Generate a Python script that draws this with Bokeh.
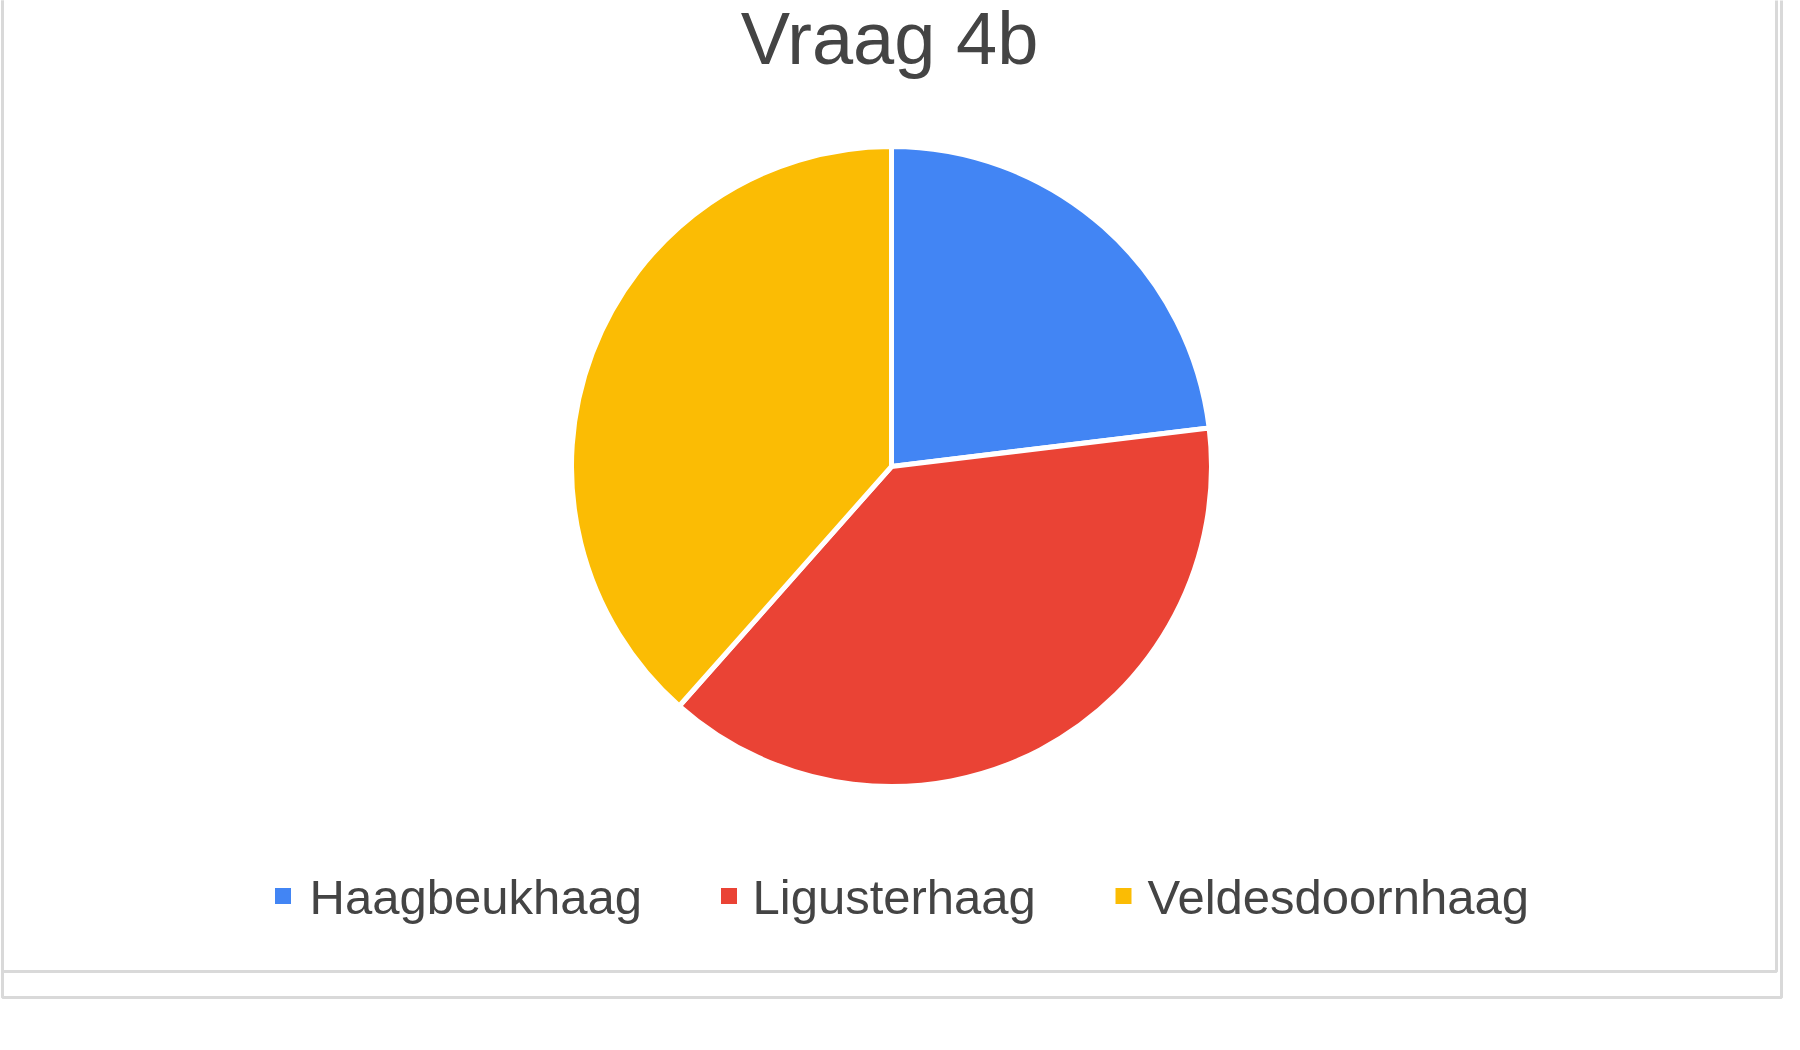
import numpy as np
from bokeh.plotting import figure
from bokeh.models import Range1d
from bokeh.core.properties import value
from bokeh.embed import file_html
from bokeh.resources import INLINE

# chart data
title = "Vraag 4b"
labels = ["Haagbeukhaag", "Ligusterhaag", "Veldesdoornhaag"]
counts = [3, 5, 5]
colors = ["#4285F4", "#EA4335", "#FBBC04"]

# layout in pixels of the picture (y measured down)
W, H = 1784, 1034
OFF = 1
def py(y):
    # picture y (down) -> data y (up)
    return 1050 - y

cx, cy, radius = 892, 467, 320
legend_box_x = [283.5, 729.5, 1124]
legend_text_x = [310, 753, 1148]
legend_y = 896.5

# wedges, clockwise from 12 o'clock
frac = np.array(counts) / np.sum(counts)
cum = np.concatenate([[0], np.cumsum(frac)])
start = np.pi / 2 - 2 * np.pi * cum[:-1]
end = np.pi / 2 - 2 * np.pi * cum[1:]

p = figure(width=W, height=H, output_backend="svg", toolbar_location=None,
           x_range=Range1d(OFF, OFF + W), y_range=Range1d(1050 - OFF - H, 1050 - OFF),
           min_border=0)
p.axis.visible = False
p.grid.visible = False
p.outline_line_color = None
p.background_fill_color = "white"

# frame around the chart
p.quad(left=[3, 3], right=[1777, 1782], top=[py(-20), py(-20)],
       bottom=[py(972), py(998)], fill_color=None, line_color="#d9d9d9",
       line_width=3)

# pie
p.wedge(x=cx, y=py(cy), radius=radius, start_angle=start, end_angle=end,
        direction="clock", fill_color=colors, line_color="white", line_width=5)

# title
p.text(x=[890], y=[py(39)], text=[title], text_align="center",
       text_baseline="alphabetic", text_font=value("Liberation Sans"),
       text_font_size="74px", text_color="#444444")

# legend
p.rect(x=legend_box_x, y=[py(legend_y)] * 3, width=16, height=16,
       fill_color=colors, line_color=None)
p.text(x=legend_text_x, y=[py(897)] * 3, text=labels, text_align="left",
       text_baseline="alphabetic", text_font=value("Liberation Sans"),
       text_font_size="49px", text_color="#444444")

open("out.html", "w").write(file_html(p, INLINE))
